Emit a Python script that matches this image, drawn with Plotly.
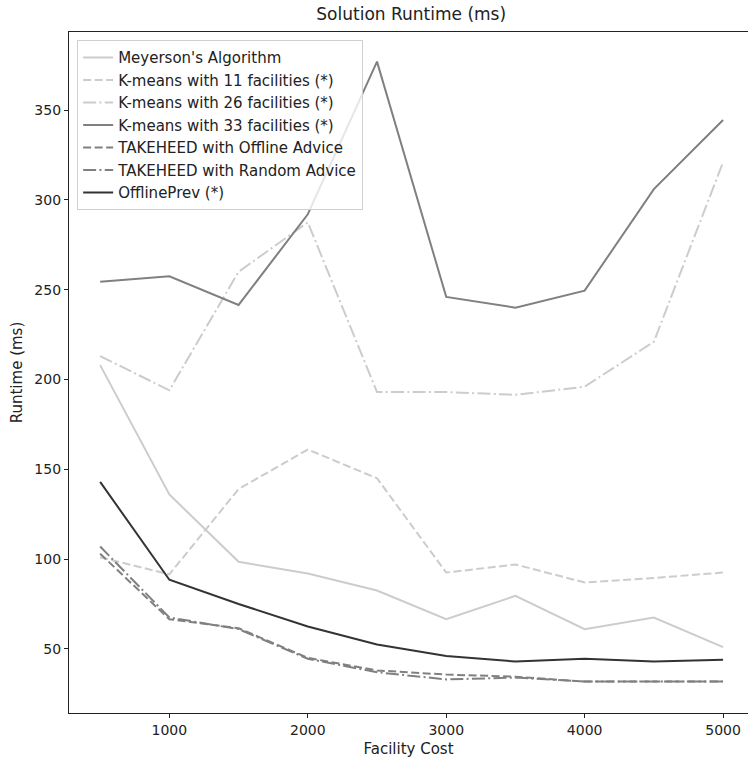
import plotly.graph_objects as go

facility_cost = [500, 1000, 1500, 2000, 2500, 3000, 3500, 4000, 4500, 5000]
meyerson = [208, 136, 98.5, 92, 82.5, 66.5, 79.5, 61, 67.5, 51]
kmeans_11 = [101, 91.5, 139, 161, 145, 92.5, 97, 87, 89.5, 92.5]
kmeans_26 = [213, 194, 260, 287.5, 193, 193, 191.5, 196, 221, 321]
kmeans_33 = [254.5, 257.5, 241.5, 292, 377, 246, 240, 249.5, 306, 344.5]
takeheed_offline = [103, 66.5, 61.5, 45, 38, 35.7, 34.5, 31.8, 31.8, 31.8]
takeheed_random = [107, 67.5, 61, 44.5, 37, 33, 34, 31.8, 31.8, 31.8]
offline_prev = [143, 88.5, 75, 62.5, 52.5, 46, 43, 44.5, 43, 44]

series = [
    ("Meyerson's Algorithm", meyerson, "#cccccc", "solid"),
    ("K-means with 11 facilities (*)", kmeans_11, "#cccccc", "8px,3.5px"),
    ("K-means with 26 facilities (*)", kmeans_26, "#cccccc", "13px,3.3px,2px,3.3px"),
    ("K-means with 33 facilities (*)", kmeans_33, "#808080", "solid"),
    ("TAKEHEED with Offline Advice", takeheed_offline, "#808080", "8px,3.5px"),
    ("TAKEHEED with Random Advice", takeheed_random, "#808080", "13px,3.3px,2px,3.3px"),
    ("OfflinePrev (*)", offline_prev, "#333333", "solid"),
]

fig = go.Figure()
for name, ys, color, dash in series:
    fig.add_trace(go.Scatter(x=facility_cost, y=ys, mode="lines", name=name,
                             line=dict(color=color, width=2, dash=dash)))

font = "DejaVu Sans, sans-serif"
fig.update_layout(
    width=748, height=765,
    margin=dict(l=69, r=0, t=32, b=52),
    paper_bgcolor="white", plot_bgcolor="white",
    font=dict(family=font, size=14, color="#222222"),
    title=dict(text="Solution Runtime (ms)", x=0.504, xref="paper", xanchor="center",
               y=1 - 14 / 765, yanchor="middle", font=dict(size=17, color="#222222")),
    showlegend=True,
    legend=dict(x=0.012, y=0.988, xanchor="left", yanchor="top",
                bgcolor="rgba(255,255,255,0.8)", bordercolor="#d0d0d0", borderwidth=1,
                font=dict(size=15, color="#222222"), tracegroupgap=0),
    xaxis=dict(range=[275, 5180], tickvals=[1000, 2000, 3000, 4000, 5000],
               showgrid=False, zeroline=False, showline=True, linecolor="#222222",
               linewidth=1.2, mirror=True, ticks="outside", ticklen=4, tickcolor="#222222",
               tickfont=dict(size=14),
               title=dict(text="Facility Cost", standoff=6, font=dict(size=15))),
    yaxis=dict(range=[14.3, 393.5], tickvals=[50, 100, 150, 200, 250, 300, 350],
               showgrid=False, zeroline=False, showline=True, linecolor="#222222",
               linewidth=1.2, mirror=False, ticks="outside", ticklen=4, tickcolor="#222222",
               tickfont=dict(size=14),
               title=dict(text="Runtime (ms)", standoff=8, font=dict(size=15))),
)

fig.write_html("out.html")
